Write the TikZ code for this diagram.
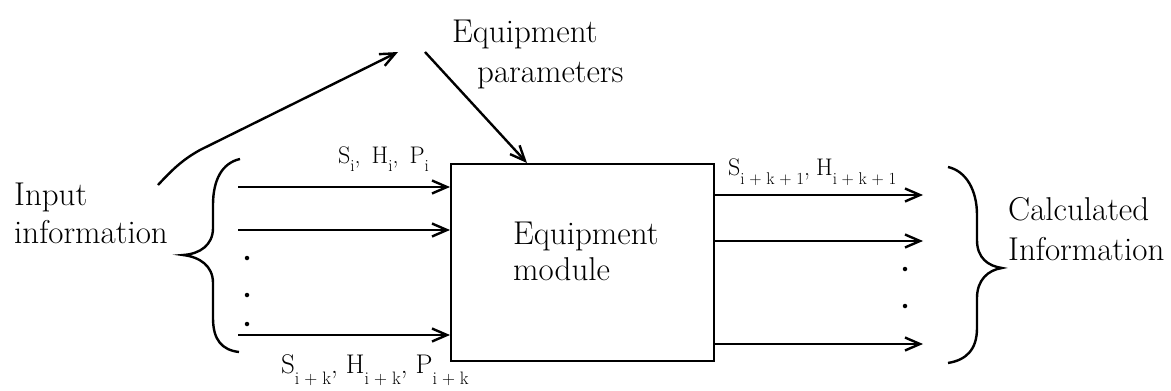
\documentclass[tikz,border=0pt]{standalone}
\usepackage{fontspec}
\usetikzlibrary{arrows.meta,calc}
\newcommand\lowsub[3]{\raisebox{-#1}{\fontsize{#2}{#2}\selectfont #3}}
\newcommand\gap{\hspace{11pt}}
\begin{document}
\begin{tikzpicture}[x=1pt,y=-1pt,
  lab/.style={inner sep=0pt, anchor=base west, font=\fontsize{33}{38}\selectfont},
  toplab/.style={inner sep=0pt, anchor=base west, font=\fontsize{24}{28}\selectfont},
  botlab/.style={inner sep=0pt, anchor=base west, font=\fontsize{27}{30}\selectfont},
  arr/.style={line width=2.4pt, -{Straight Barb[length=15pt,width=13pt]}},
  brc/.style={line width=2.4pt},
  dotmark/.style={circle, fill, inner sep=0pt, minimum size=4.5pt}]
\useasboundingbox (0,0) rectangle (1171,391);
% module box
\node[draw, line width=2.4pt, minimum width=263pt, minimum height=197pt, inner sep=0pt, anchor=north west] (module) at (450,163) {};
% texts
\node[lab] (in1) at (14,205) {Input};
\node[lab] (in2) at (14,243) {information};
\node[lab] (ep1) at (452,42) {Equipment};
\node[lab] (ep2) at (477,82) {parameters};
\node[lab] (em1) at (513,244) {Equipment};
\node[lab] (em2) at (513,280) {module};
\node[lab] (ci1) at (1008,220) {Calculated};
\node[lab] (ci2) at (1008,260) {Information};
% stream labels
\node[toplab] (sin) at (338,163) {S\lowsub{8pt}{17}{i},\gap H\lowsub{8pt}{17}{i},\gap P\lowsub{8pt}{17}{i}};
\node[toplab] (sout) at (728,175) {S\lowsub{9pt}{17}{i\;+\;k\;+\;1},\hspace{6pt}H\lowsub{9pt}{17}{i\;+\;k\;+\;1}};
\node[botlab] (sbot) at (281,373) {S\lowsub{11pt}{18}{i\;+\;k},\hspace{8pt}H\lowsub{11pt}{18}{i\;+\;k},\hspace{8pt}P\lowsub{11pt}{18}{i\;+\;k}};
% curved arrow from input information to equipment parameters
\coordinate (c0) at (158,185);
\coordinate (c1) at (398,52);
\draw[arr] (c0) .. controls (172,170) and (182,160) .. (200,150) -- (c1);
% parameter arrow into module
\coordinate (p0) at (425,52);
\draw[arr] (p0) -- ($(module.north west)+(77,0)$);
% input arrows
\coordinate (i1) at (238,187);
\coordinate (i2) at (238,230);
\coordinate (i3) at (238,335);
\draw[arr] (i1) -- (i1 -| module.west);
\draw[arr] (i2) -- (i2 -| module.west);
\draw[arr] (i3) -- (i3 -| module.west);
\node[dotmark] (ld1) at (247,258) {};
\node[dotmark] (ld2) at (247,295) {};
\node[dotmark] (ld3) at (247,324) {};
% output arrows
\coordinate (o1) at (923,195);
\coordinate (o2) at (923,241);
\coordinate (o3) at (923,344);
\draw[arr] (o1 -| module.east) -- (o1);
\draw[arr] (o2 -| module.east) -- (o2);
\draw[arr] (o3 -| module.east) -- (o3);
\node[dotmark] (rd1) at (905,269) {};
\node[dotmark] (rd2) at (905,306) {};
% braces
\draw[brc] (240,159) .. controls (222,163) and (213,180) .. (213,205) -- (213,228) .. controls (213,245) and (200,254) .. (183,255) .. controls (200,257) and (213,266) .. (213,283) -- (213,318) .. controls (213,340) and (222,350) .. (239,352);
\draw[brc] (948,167) .. controls (966,171) and (977,190) .. (977,215) -- (977,240) .. controls (977,258) and (988,266) .. (1002,268) .. controls (988,270) and (977,280) .. (977,298) -- (977,328) .. controls (977,350) and (966,360) .. (948,363);
\end{tikzpicture}
\end{document}
